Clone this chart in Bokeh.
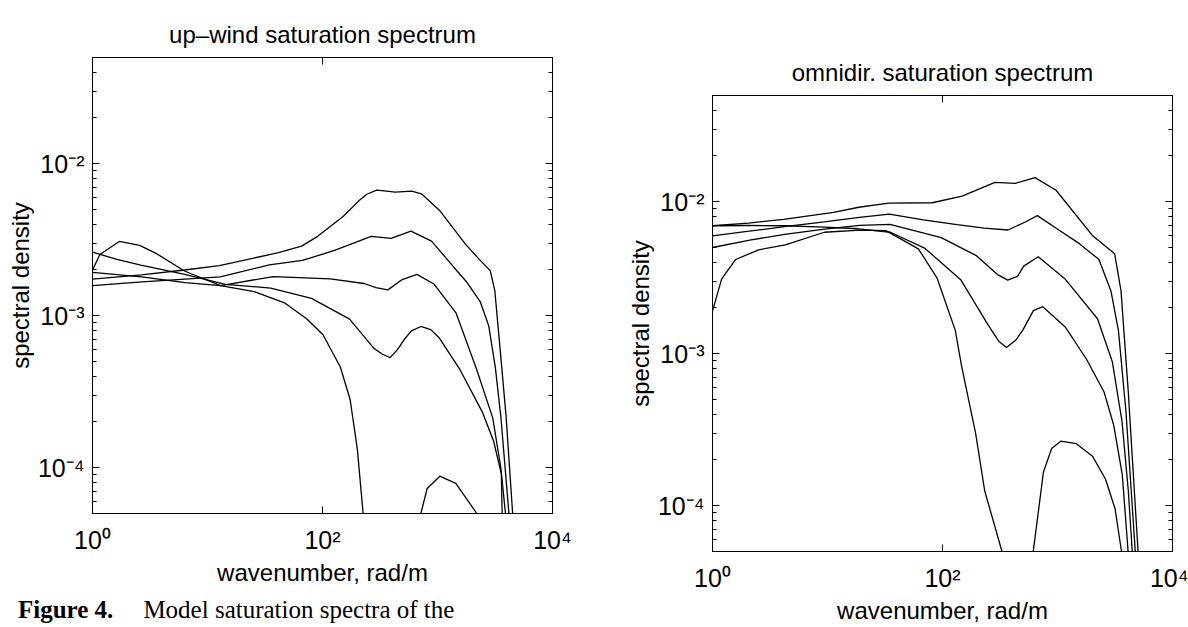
from bokeh.plotting import figure
from bokeh.models import Range1d, FixedTicker, LogAxis, CustomJSTickFormatter, Div, Spacer
from bokeh.layouts import row, column
from bokeh.embed import file_html
from bokeh.resources import INLINE

# ---------------- data: up-wind saturation spectrum ----------------
uw1_k = [1.0, 1.16, 1.71, 2.57, 3.61, 6.3, 13.0, 25.5, 47.3, 72.8, 101, 143, 174, 201, 225, 228]
uw1_b = [2.0e-3, 2.53e-3, 3.08e-3, 2.9e-3, 2.56e-3, 1.97e-3, 1.58e-3, 1.44e-3, 1.21e-3, 9.55e-4,
         7.5e-4, 4.6e-4, 2.8e-4, 1.32e-4, 5.1e-5, 3.0e-5]
uw1c_k = [705, 719, 813, 1048, 1442, 2198, 2230]
uw1c_b = [4.0e-5, 5.05e-5, 7.3e-5, 8.8e-5, 7.9e-5, 5.0e-5, 4.0e-5]
uw2_k = [1.0, 1.63, 2.63, 6.34, 14.3, 35.5, 80.3, 172, 280, 330, 387, 447, 515, 594, 717, 873,
         1028, 1574, 2438, 3074, 3592, 3670]
uw2_b = [2.62e-3, 2.35e-3, 2.15e-3, 1.87e-3, 1.61e-3, 1.52e-3, 1.3e-3, 9.5e-4, 6.1e-4, 5.6e-4,
         5.3e-4, 5.96e-4, 7.0e-4, 7.96e-4, 8.5e-4, 8.1e-4, 7.2e-4, 4.4e-4, 2.35e-4, 1.5e-4,
         9.1e-5, 4.0e-5]
uw3_k = [1.0, 2.67, 6.4, 13, 37.4, 117, 230, 292, 370, 494, 663, 937, 1452, 2176, 3021, 3555,
         4018]
uw3_b = [1.93e-3, 1.8e-3, 1.65e-3, 1.58e-3, 1.81e-3, 1.75e-3, 1.63e-3, 1.53e-3, 1.48e-3,
         1.73e-3, 1.87e-3, 1.61e-3, 1.04e-3, 4.5e-4, 2.13e-4, 1.0e-4, 4.0e-5]
uw4_k = [1.0, 2.69, 12.9, 34.5, 67, 129, 265, 396, 587, 888, 1368, 1802, 2349, 2788, 3184,
         3559, 4283]
uw4_b = [1.58e-3, 1.67e-3, 1.8e-3, 2.16e-3, 2.31e-3, 2.7e-3, 3.33e-3, 3.23e-3, 3.6e-3, 3.1e-3,
         2.11e-3, 1.66e-3, 1.24e-3, 8.6e-4, 4.57e-4, 2.15e-4, 4.0e-5]
uw5_k = [1.0, 2.66, 6.31, 12.7, 41.5, 65.8, 90.8, 151, 207, 243, 296, 362, 428, 598, 733,
         1043, 1742, 2318, 2875, 3148, 3513, 3952, 4592]
uw5_b = [1.74e-3, 1.86e-3, 2.0e-3, 2.14e-3, 2.6e-3, 2.87e-3, 3.33e-3, 4.5e-3, 5.7e-3, 6.3e-3,
         6.7e-3, 6.6e-3, 6.5e-3, 6.6e-3, 6.3e-3, 4.93e-3, 2.97e-3, 2.34e-3, 1.98e-3, 1.47e-3,
         5.9e-4, 2.16e-4, 4.0e-5]

# ---------------- data: omnidirectional saturation spectrum ----------------
om1_k = [1.0, 1.2, 1.59, 2.52, 4.3, 9.4, 19.2, 32.2, 61.7, 89.5, 129, 147, 194, 233, 329, 335]
om1_b = [1.91e-3, 3.1e-3, 4.17e-3, 4.83e-3, 5.2e-3, 6.3e-3, 6.5e-3, 6.46e-3, 4.9e-3, 3.16e-3,
         1.43e-3, 8.2e-4, 3.0e-4, 1.25e-4, 5.0e-5, 4.0e-5]
om1c_k = [605, 613, 680, 754, 889, 1067, 1458, 2015, 2611, 3163, 3603, 3650]
om1c_b = [4.0e-5, 4.9e-5, 9.0e-5, 1.66e-4, 2.38e-4, 2.66e-4, 2.56e-4, 2.12e-4, 1.5e-4, 9.6e-5,
          5.0e-5, 4.0e-5]
om2_k = [1.0, 2.07, 4.2, 9.4, 18.5, 35.3, 70.5, 144, 249, 308, 360, 435, 502, 617, 745, 1167,
         1788, 2541, 3079, 3659, 4203]
om2_b = [6.95e-3, 6.98e-3, 6.95e-3, 6.8e-3, 6.64e-3, 6.3e-3, 4.93e-3, 3.07e-3, 1.55e-3,
         1.21e-3, 1.1e-3, 1.23e-3, 1.44e-3, 1.92e-3, 2.04e-3, 1.5e-3, 9.2e-4, 5.6e-4, 3.4e-4,
         1.6e-4, 4.0e-5]
om3_k = [1.0, 2.11, 4.24, 9.45, 19.1, 34.9, 97.5, 195, 299, 369, 449, 508, 680, 1157, 2228,
         2993, 3636, 4130, 4554]
om3_b = [5.0e-3, 5.6e-3, 6.1e-3, 6.6e-3, 7.0e-3, 7.1e-3, 5.8e-3, 4.44e-3, 3.33e-3, 3.05e-3,
         3.23e-3, 3.77e-3, 4.35e-3, 3.12e-3, 1.7e-3, 8.9e-4, 3.6e-4, 1.25e-4, 4.0e-5]
om4_k = [1.0, 2.08, 4.2, 9.4, 18.9, 34.5, 68, 134, 231, 371, 514, 668, 1019, 1549, 2292, 2915,
         3388, 3935, 4840]
om4_b = [5.97e-3, 6.4e-3, 6.85e-3, 7.36e-3, 7.9e-3, 8.3e-3, 7.6e-3, 7.07e-3, 6.7e-3, 6.52e-3,
         7.3e-3, 8.1e-3, 6.55e-3, 5.3e-3, 4.17e-3, 2.59e-3, 1.42e-3, 4.2e-4, 4.0e-5]
om5_k = [1.0, 2.06, 4.16, 11.3, 18.7, 34, 81.5, 148, 286, 429, 638, 971, 2009, 3141, 3565,
         4120, 5110]
om5_b = [6.95e-3, 7.24e-3, 7.65e-3, 8.5e-3, 9.2e-3, 9.8e-3, 9.85e-3, 1.09e-2, 1.34e-2, 1.32e-2,
         1.44e-2, 1.19e-2, 6.0e-3, 4.54e-3, 2.6e-3, 5.7e-4, 4.0e-5]

x_ticks = [1, 100, 10000]
y_ticks = [1e-4, 1e-3, 1e-2]
y_minor = [m * 10.0 ** e for e in range(-5, -1) for m in range(2, 10)
           if 5e-5 <= m * 10.0 ** e <= 5e-2]

SANS = "Liberation Sans"
SUP_JS = r"""
const e = Math.round(Math.log10(tick));
const m = {"-": "\u207B", "0": "\u2070", "1": "\u00B9", "2": "\u00B2", "3": "\u00B3",
           "4": "\u2074", "5": "\u2075"};
return "10" + String(e).split("").map(c => m[c]).join("");
"""


def style_axis(ax, labels=True):
    ax.major_tick_in = 7
    ax.major_tick_out = 0
    ax.minor_tick_in = 4
    ax.minor_tick_out = 0
    ax.major_tick_line_color = "black"
    ax.minor_tick_line_color = "black"
    ax.axis_line_color = "black"
    if labels:
        ax.formatter = CustomJSTickFormatter(code=SUP_JS)
        ax.major_label_text_font = SANS
        ax.major_label_text_font_size = "25px"
        ax.major_label_text_color = "black"
        ax.axis_label_text_font = SANS
        ax.axis_label_text_font_size = "24px"
        ax.axis_label_text_font_style = "normal"
        ax.axis_label_text_color = "black"
    else:
        ax.major_label_text_font_size = "1px"
        ax.major_label_text_color = None
        ax.major_label_standoff = 0


def make_panel(title, width, bl, br, curves):
    p = figure(width=width, height=589, x_axis_type="log", y_axis_type="log",
               x_range=Range1d(1, 1e4), y_range=Range1d(5e-5, 5e-2),
               min_border_left=bl, min_border_right=br, min_border_top=57,
               min_border_bottom=76, toolbar_location=None, output_backend="svg",
               title=title)
    p.title.text_font = SANS
    p.title.text_font_size = "24px"
    p.title.text_font_style = "normal"
    p.title.text_color = "black"
    p.title.align = "center"
    p.title.standoff = 19
    p.xgrid.visible = False
    p.ygrid.visible = False
    p.outline_line_color = "black"
    p.outline_line_width = 1
    p.background_fill_color = "white"
    p.border_fill_color = "white"

    p.xaxis.ticker = FixedTicker(ticks=x_ticks, minor_ticks=[])
    p.yaxis.ticker = FixedTicker(ticks=y_ticks, minor_ticks=y_minor)
    style_axis(p.xaxis[0])
    style_axis(p.yaxis[0])
    p.xaxis.axis_label = "wavenumber, rad/m"
    p.yaxis.axis_label = "spectral density"
    p.xaxis.major_label_standoff = 12
    p.xaxis.axis_label_standoff = 2
    p.yaxis.major_label_standoff = 8
    p.yaxis.axis_label_standoff = 1

    top = LogAxis(ticker=FixedTicker(ticks=x_ticks, minor_ticks=[]))
    style_axis(top, labels=False)
    p.add_layout(top, "above")
    right = LogAxis(ticker=FixedTicker(ticks=y_ticks, minor_ticks=y_minor))
    style_axis(right, labels=False)
    p.add_layout(right, "right")

    for k, b in curves:
        p.line(k, b, line_color="black", line_width=1.3)
    return p


p1 = make_panel("up\u2013wind saturation spectrum", 610, 92, 58,
                [(uw1_k, uw1_b), (uw1c_k, uw1c_b), (uw2_k, uw2_b), (uw3_k, uw3_b),
                 (uw4_k, uw4_b), (uw5_k, uw5_b)])
p2 = make_panel("omnidir. saturation spectrum", 578, 102, 16,
                [(om1_k, om1_b), (om1c_k, om1c_b), (om2_k, om2_b), (om3_k, om3_b),
                 (om4_k, om4_b), (om5_k, om5_b)])

caption = Div(
    text='<b>Figure 4.</b><span style="margin-left:30px">Model saturation spectra of the</span>',
    width=610, height=38, margin=(0, 0, 0, 0),
    styles={"font-family": "Liberation Serif", "font-size": "25px", "color": "black",
            "white-space": "nowrap", "padding-left": "18px", "padding-top": "3px"})

layout = row(column(p1, caption), column(Spacer(width=578, height=38), p2))
open("out.html", "w").write(file_html(layout, INLINE))
